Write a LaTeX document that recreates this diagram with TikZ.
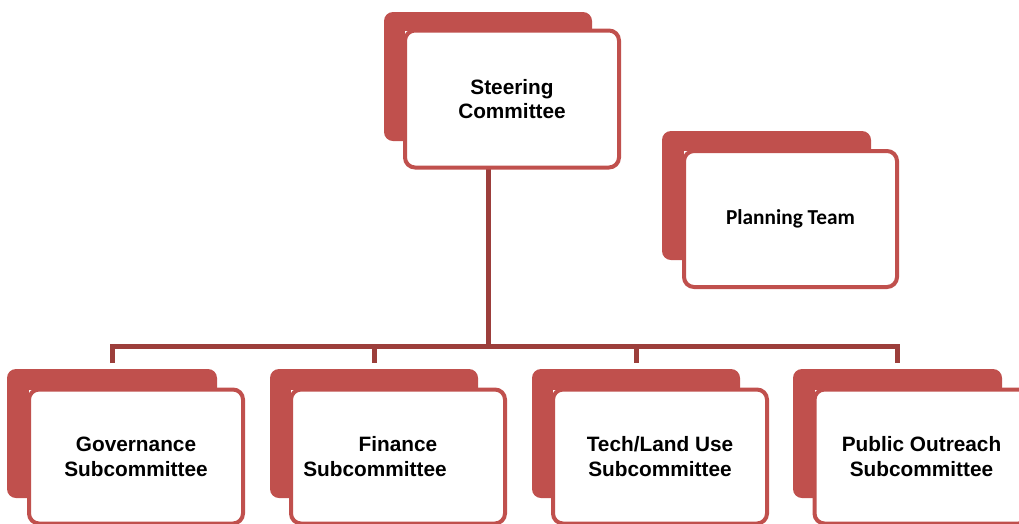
\documentclass[tikz,border=0pt]{standalone}
\usepackage{fontspec}
\setmainfont{Liberation Sans}
\newfontfamily\calibrifont{Carlito}
\usetikzlibrary{calc}
\definecolor{boxred}{HTML}{C0504D}
\definecolor{linkred}{HTML}{9C3E3B}
\pgfdeclarelayer{backmost}
\pgfdeclarelayer{notch}
\pgfsetlayers{backmost,notch,main}
\tikzset{
  backbox/.style={fill=boxred, rounded corners=9pt, minimum width=208pt, minimum height=129pt, inner sep=0pt, outer sep=0pt},
  frontbox/.style={draw=boxred, line width=4pt, fill=white, rounded corners=10pt,
    minimum width=214pt, minimum height=137pt, inner sep=0pt, outer sep=0pt,
    align=center, font=\fontsize{20.8}{24.8}\selectfont\bfseries},
  lowbox/.style={frontbox, minimum height=134pt},
  teambox/.style={frontbox, minimum width=213pt, minimum height=136pt,
    font=\fontsize{21.3}{25}\selectfont\calibrifont\bfseries},
  conn/.style={draw=linkred, line width=5pt, line cap=butt, line join=miter},
}
\begin{document}
\begin{tikzpicture}[x=1pt,y=-1pt]
\useasboundingbox (0,0) rectangle (1019,523);
\clip (0,0) rectangle (1019,523);

% front cards carrying the texts
\node[frontbox] (s) at (512,99) {Steering\\Committee};
\node[teambox] (pt) at (790.5,219) {Planning Team};
\node[lowbox] (g) at (136,456.5) {Governance\\Subcommittee};
\node[lowbox] (f) at (398,456.5) {Finance\\Subcommittee\rule{46pt}{0pt}};
\node[lowbox] (t) at (660,456.5) {Tech/Land Use\\Subcommittee};
\node[lowbox] (p) at (921.5,456.5) {Public Outreach\\Subcommittee};

% square-cornered white backing under each card
\begin{pgfonlayer}{notch}
  \foreach \n in {s,pt,g,f,t,p}
    \fill[white] (\n.north west) rectangle (\n.south east);
\end{pgfonlayer}

\begin{pgfonlayer}{backmost}
  % offset red cards behind the front cards
  \node[backbox] (sb) at (488,76.5) {};
  \node[backbox, minimum width=209pt] (ptb) at (766.5,195.5) {};
  \node[backbox, minimum width=210pt] (gb) at (112,433.5) {};
  \node[backbox] (fb) at (374,433.5) {};
  \node[backbox] (tb) at (636,433.5) {};
  \node[backbox, minimum width=209pt] (pb) at (897.5,433.5) {};

  % connectors
  \coordinate (bus) at (488,346.5);
  \draw[conn] (sb.south |- s.south) -- (bus);
  \draw[conn] ($(gb.north)+(0,-6)$) |- (bus) -| ($(pb.north)+(0,-6)$);
  \draw[conn] (fb.north |- bus) -- ($(fb.north)+(0,-6)$);
  \draw[conn] (tb.north |- bus) -- ($(tb.north)+(0,-6)$);
\end{pgfonlayer}
\end{tikzpicture}
\end{document}
